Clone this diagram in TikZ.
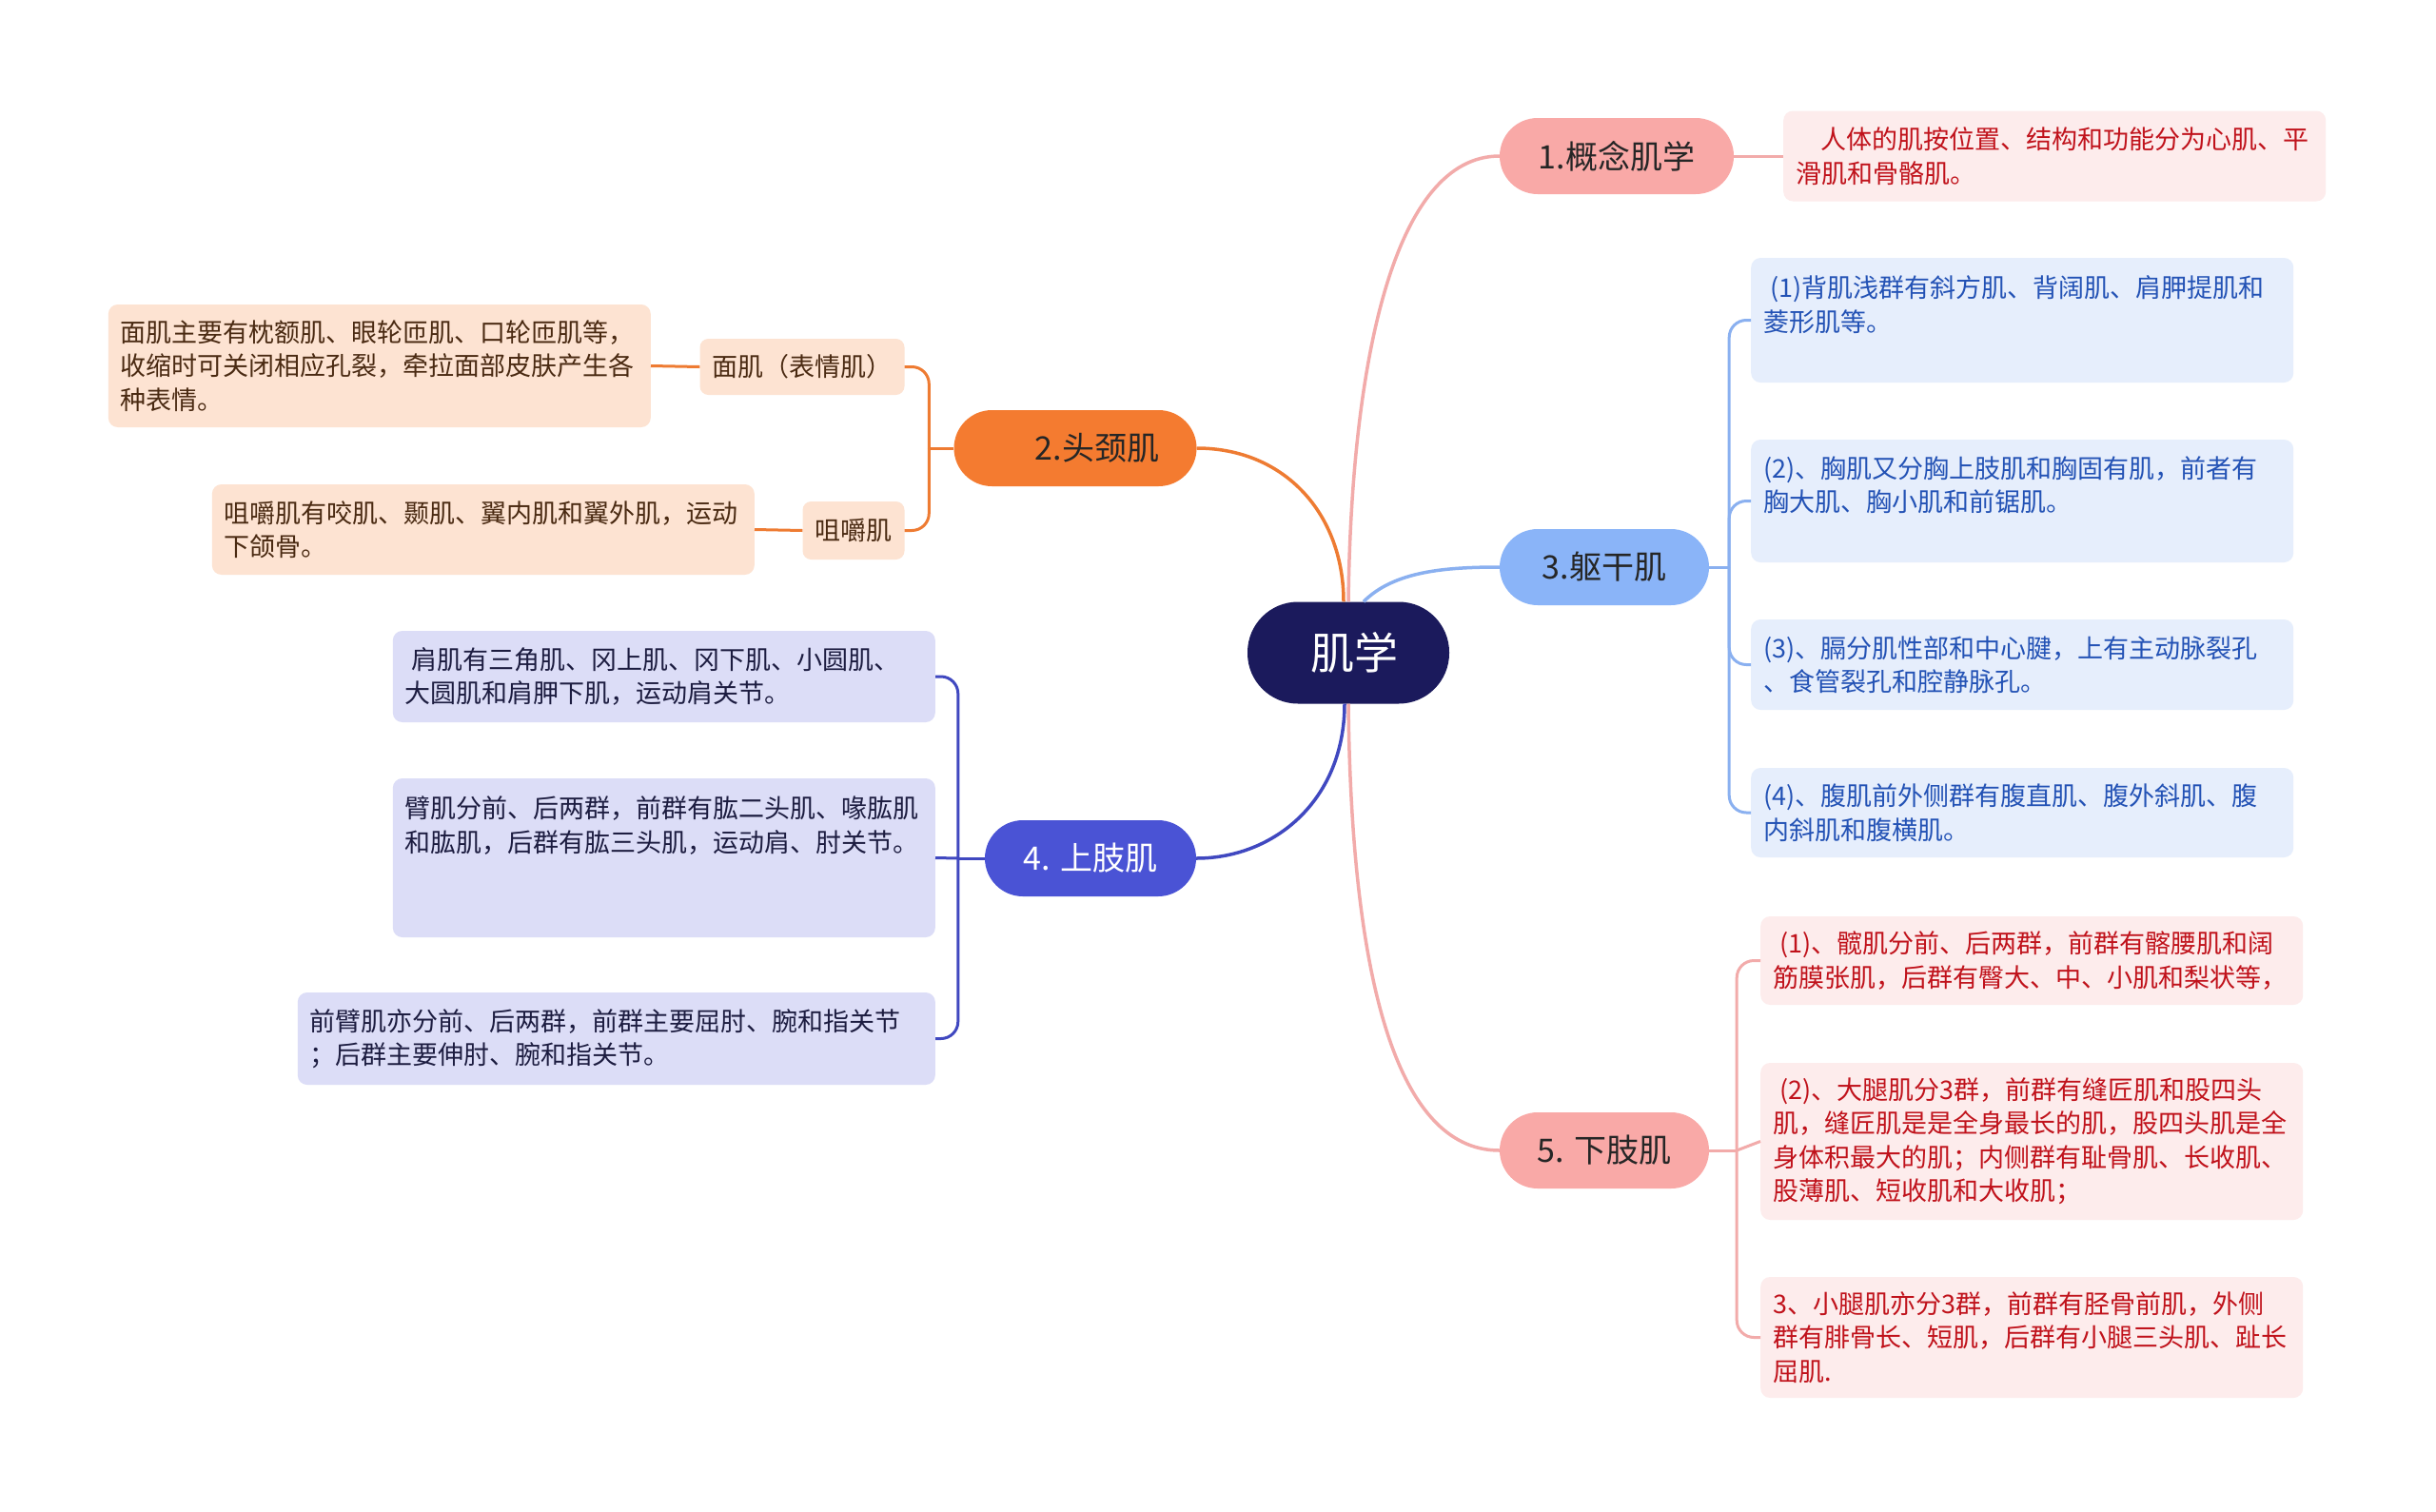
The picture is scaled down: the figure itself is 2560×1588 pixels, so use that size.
\documentclass[tikz,border=0pt]{standalone}
\usepackage{fontspec}
\newfontfamily\cjk{Noto Sans CJK SC}
\usetikzlibrary{calc}
\definecolor{rootc}{HTML}{1B1A5C}
\definecolor{pinkp}{HTML}{F9A9A7}
\definecolor{pinkline}{HTML}{F2ABAA}
\definecolor{pinkl}{HTML}{FDECEC}
\definecolor{pinkt}{HTML}{C0121B}
\definecolor{orangep}{HTML}{F47B30}
\definecolor{orangeline}{HTML}{EE7B32}
\definecolor{orangel}{HTML}{FDE3D2}
\definecolor{oranget}{HTML}{4A2A12}
\definecolor{bluep}{HTML}{8AB4F8}
\definecolor{blueline}{HTML}{8AB0F0}
\definecolor{bluel}{HTML}{E6EEFC}
\definecolor{bluet}{HTML}{2352B5}
\definecolor{navyp}{HTML}{4A53D5}
\definecolor{navyline}{HTML}{4048C0}
\definecolor{navyl}{HTML}{DCDDF7}
\definecolor{navyt}{HTML}{1C1C40}
\definecolor{pilltext}{HTML}{262626}
\tikzset{
  every node/.style={font=\cjk},
  rootnode/.style={fill=rootc, text=white, minimum width=212pt, minimum height=107pt,
    rounded corners=53pt, inner sep=0pt, font=\cjk\fontsize{46}{52}\selectfont},
  pill/.style={rounded corners=40pt, minimum height=80pt, inner sep=0pt,
    font=\cjk\fontsize{34}{40}\selectfont, text=pilltext},
  leaf/.style={rounded corners=10pt, align=left, inner xsep=13pt, inner ysep=0pt,
    font=\cjk\fontsize{27}{35.5}\selectfont, text width=544pt},
  child/.style={rounded corners=9pt, inner xsep=13pt, inner ysep=0pt,
    font=\cjk\fontsize{27}{35.5}\selectfont, fill=orangel, text=oranget},
  mainline/.style={line width=3.5pt},
  subline/.style={line width=3pt, rounded corners=18pt},
}
\begin{document}
\begin{tikzpicture}[x=1pt,y=-1pt]
\fill[white] (0,0) rectangle (2560,1588);
\useasboundingbox (0,0) rectangle (2560,1588);

% root and main branches
\node[rootnode] (root) at (1417,686) {\hspace*{12pt}肌学};
\node[pill, fill=pinkp, minimum width=246pt] (b1) at (1699,164) {1.概念肌学};
\node[pill, fill=orangep, minimum width=255pt] (b2) at (1130,471) {\hspace*{46pt}2.头颈肌};
\node[pill, fill=bluep, minimum width=220pt] (b3) at (1686,596) {3.躯干肌};
\node[pill, fill=navyp, text=white, minimum width=222pt] (b4) at (1146,902) {4. 上肢肌};
\node[pill, fill=pinkp, minimum width=220pt] (b5) at (1686,1209) {5. 下肢肌};

% group 1
\node[leaf, anchor=west, fill=pinkl, text=pinkt, minimum height=95pt] (l1) at (1874,164)
  {\hspace*{26pt}人体的肌按位置、结构和功能分为心肌、平\\滑肌和骨骼肌。};

% group 2
\node[child, minimum height=59pt] (c2a) at (843,385.5) {面肌（表情肌）};
\node[child, minimum height=61pt] (c2b) at (897,557.5) {咀嚼肌};
\node[leaf, anchor=east, fill=orangel, text=oranget, minimum height=129pt] (l2a) at (684,384.5)
  {面肌主要有枕额肌、眼轮匝肌、口轮匝肌等，\\收缩时可关闭相应孔裂，牵拉面部皮肤产生各\\种表情。};
\node[leaf, anchor=east, fill=orangel, text=oranget, minimum height=95pt] (l2b) at (793,556.5)
  {咀嚼肌有咬肌、颞肌、翼内肌和翼外肌，运动\\下颌骨。};

% group 3
\node[leaf, anchor=west, fill=bluel, text=bluet, minimum height=131pt] (l3a) at (1840,336.5)
  {\hspace*{7pt}(1)背肌浅群有斜方肌、背阔肌、肩胛提肌和\\菱形肌等。\\\mbox{}};
\node[leaf, anchor=west, fill=bluel, text=bluet, minimum height=129pt] (l3b) at (1840,526.5)
  {(2)、胸肌又分胸上肢肌和胸固有肌，前者有\\胸大肌、胸小肌和前锯肌。\\\mbox{}};
\node[leaf, anchor=west, fill=bluel, text=bluet, minimum height=95pt] (l3c) at (1840,698.5)
  {(3)、膈分肌性部和中心腱，上有主动脉裂孔\\、食管裂孔和腔静脉孔。};
\node[leaf, anchor=west, fill=bluel, text=bluet, minimum height=94pt] (l3d) at (1840,854)
  {(4)、腹肌前外侧群有腹直肌、腹外斜肌、腹\\内斜肌和腹横肌。};

% group 4
\node[leaf, anchor=east, fill=navyl, text=navyt, minimum height=96pt] (l4a) at (983,711)
  {\hspace*{7pt}肩肌有三角肌、冈上肌、冈下肌、小圆肌、\\大圆肌和肩胛下肌，运动肩关节。};
\node[leaf, anchor=east, fill=navyl, text=navyt, minimum height=167pt] (l4b) at (983,901.5)
  {臂肌分前、后两群，前群有肱二头肌、喙肱肌\\和肱肌，后群有肱三头肌，运动肩、肘关节。\\\mbox{}\\\mbox{}};
\node[leaf, anchor=east, fill=navyl, text=navyt, minimum height=97pt, text width=644pt] (l4c) at (983,1091.5)
  {前臂肌亦分前、后两群，前群主要屈肘、腕和指关节\\；后群主要伸肘、腕和指关节。};

% group 5
\node[leaf, anchor=west, fill=pinkl, text=pinkt, minimum height=93pt] (l5a) at (1850,1009.5)
  {\hspace*{7pt}(1)、髋肌分前、后两群，前群有髂腰肌和阔\\筋膜张肌，后群有臀大、中、小肌和梨状等，};
\node[leaf, anchor=west, fill=pinkl, text=pinkt, minimum height=165pt] (l5b) at (1850,1199.5)
  {\hspace*{7pt}(2)、大腿肌分3群，前群有缝匠肌和股四头\\肌，缝匠肌是是全身最长的肌，股四头肌是全\\身体积最大的肌；内侧群有耻骨肌、长收肌、\\股薄肌、短收肌和大收肌；};
\node[leaf, anchor=west, fill=pinkl, text=pinkt, minimum height=127pt] (l5c) at (1850,1405.5)
  {3、小腿肌亦分3群，前群有胫骨前肌，外侧\\群有腓骨长、短肌，后群有小腿三头肌、趾长\\屈肌.};

% main connectors
\draw[mainline, draw=pinkline] (root.north) .. controls (1420,380) and (1465,164) .. (b1.west);
\draw[mainline, draw=orangeline] ([xshift=-5pt]root.north) .. controls (1412,540) and (1350,471) .. (b2.east);
\draw[mainline, draw=blueline] ([xshift=16pt]root.north) .. controls (1465,600) and (1520,596) .. (b3.west);
\draw[mainline, draw=navyline] ([xshift=-4pt]root.south) .. controls (1413,840) and (1340,902) .. (b4.east);
\draw[mainline, draw=pinkline] (root.south) .. controls (1420,1020) and (1465,1209) .. (b5.west);

% group 1 connector
\draw[subline, draw=pinkline] (b1.east) -- (l1.west);

% group 2 connectors
\coordinate (j2) at ($(b2.west)+(-26,0)$);
\draw[subline, draw=orangeline] (b2.west) -- (j2);
\draw[subline, draw=orangeline] (j2) |- (c2a.east);
\draw[subline, draw=orangeline] (j2) |- (c2b.east);
\draw[subline, draw=orangeline] (c2a.west) -- (l2a.east);
\draw[subline, draw=orangeline] (c2b.west) -- (l2b.east);

% group 3 connectors
\coordinate (j3) at ($(b3.east)+(21,0)$);
\draw[subline, draw=blueline] (b3.east) -- (j3);
\draw[subline, draw=blueline] (j3) |- (l3a.west);
\draw[subline, draw=blueline] (j3) |- (l3b.west);
\draw[subline, draw=blueline] (j3) |- (l3c.west);
\draw[subline, draw=blueline] (j3) |- (l3d.west);

% group 4 connectors
\coordinate (j4) at ($(b4.west)+(-28,0)$);
\draw[subline, draw=navyline] (b4.west) -- (j4);
\draw[subline, draw=navyline] (j4) |- (l4a.east);
\draw[subline, draw=navyline] (j4) -- (l4b.east);
\draw[subline, draw=navyline] (j4) |- (l4c.east);

% group 5 connectors
\coordinate (j5) at ($(b5.east)+(29,0)$);
\draw[subline, draw=pinkline] (b5.east) -- (j5);
\draw[subline, draw=pinkline] (j5) |- (l5a.west);
\draw[subline, draw=pinkline] (j5) -- (l5b.west);
\draw[subline, draw=pinkline] (j5) |- (l5c.west);
\end{tikzpicture}
\end{document}
